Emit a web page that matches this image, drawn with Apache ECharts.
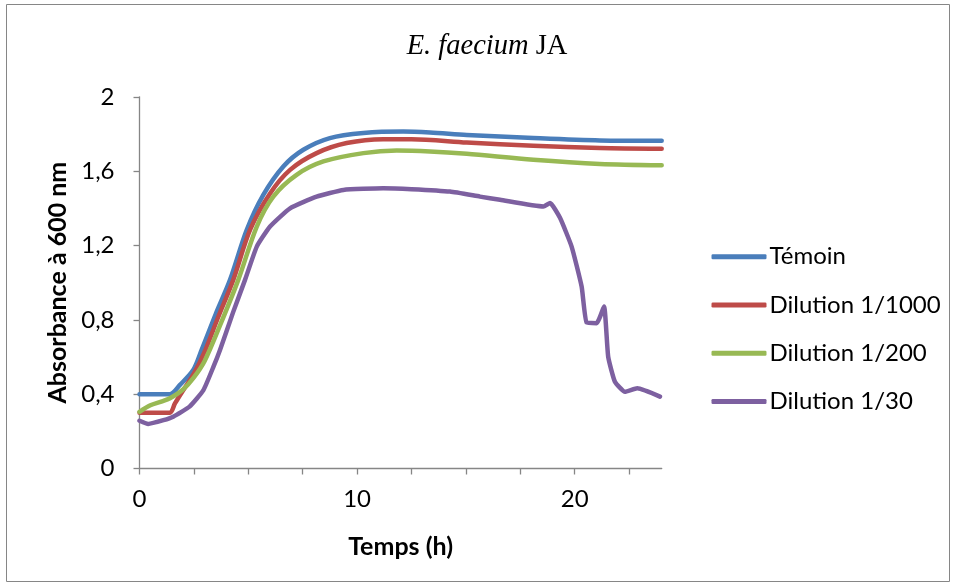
<!DOCTYPE html>
<html>
<head>
<meta charset="utf-8">
<script src="https://cdn.jsdelivr.net/npm/echarts@6/dist/echarts.min.js"></script>
<style>html,body{margin:0;padding:0;background:#fff;}#c{width:956px;height:585px;}</style>
</head>
<body>
<div id="c"></div>
<script>
var seriesNames = ['Témoin', 'Dilution 1/1000', 'Dilution 1/200', 'Dilution 1/30'];
var temoin = [[0,0.4],[0.5,0.4],[1,0.4],[1.4,0.4],[1.86,0.45],[2.47,0.53],[2.86,0.64],[3.5,0.83],[4.16,1.015],[4.93,1.284],[5.69,1.472],[6.61,1.625],[7.53,1.715],[8.75,1.778],[10.29,1.805],[12.12,1.813],[13.35,1.808],[15.04,1.795],[18.1,1.778],[21.16,1.765],[24,1.763]];
var dil1000 = [[0,0.3],[0.5,0.3],[1,0.3],[1.4,0.3],[1.63,0.35],[2.0,0.42],[2.5,0.51],[3.0,0.63],[3.6,0.81],[4.31,1.015],[5.08,1.284],[6.0,1.48],[6.92,1.607],[8.14,1.697],[9.52,1.751],[11.2,1.772],[12.5,1.772],[15.04,1.754],[18.1,1.736],[21.16,1.724],[24,1.72]];
var dil200 = [[0,0.305],[0.5,0.34],[1.0,0.36],[1.4,0.378],[2.0,0.425],[2.5,0.49],[3.0,0.58],[3.7,0.77],[4.54,1.015],[5.39,1.302],[6.15,1.463],[7.22,1.58],[8.45,1.652],[10.29,1.697],[11.82,1.711],[13.35,1.706],[15.04,1.693],[18.1,1.661],[21.16,1.639],[24,1.632]];
var dil30 = [[0,0.257],[0.4,0.24],[1.1,0.26],[1.55,0.279],[2.3,0.333],[2.93,0.42],[3.4,0.548],[3.7,0.638],[4.3,0.84],[4.85,1.015],[5.39,1.194],[6.0,1.302],[6.92,1.4],[8.14,1.463],[9.37,1.499],[11.2,1.508],[12.5,1.503],[14.27,1.49],[15.65,1.463],[16.57,1.446],[18.56,1.41],[18.87,1.428],[19.32,1.35],[19.86,1.194],[20.32,0.979],[20.55,0.785],[21.01,0.782],[21.35,0.871],[21.54,0.602],[21.85,0.467],[22.31,0.413],[22.88,0.432],[23.92,0.387]];
var xTicks = [0,2.5,5,7.5,10,12.5,15,17.5,20,22.5];
var xLabels = [0,10,20];
var colors = ['#4A7EBB', '#BE4B48', '#98B954', '#7D60A0'];

var chart = echarts.init(document.getElementById('c'), null, {renderer: 'canvas'});
var datasets = [temoin, dil1000, dil200, dil30];
var font = 'Lato, "Open Sans", sans-serif';
var serif = '"Liberation Serif", "DejaVu Serif", serif';
chart.setOption({
  animation: false,
  color: colors,
  grid: {left: 139.5, right: 294.3, top: 96.8, bottom: 116.5, containLabel: false},
  graphic: [
    {type: 'rect', shape: {x: 6.5, y: 4.5, width: 943, height: 577}, style: {fill: 'none', stroke: '#868686', lineWidth: 1}, silent: true},
    {type: 'text', x: 487, y: 47, style: {
      text: '{i|E. faecium}{n| JA}', align: 'center', verticalAlign: 'middle',
      rich: {
        i: {fontFamily: serif, fontStyle: 'italic', fontSize: 28.5, fill: '#000'},
        n: {fontFamily: serif, fontSize: 28.5, fill: '#000'}
      }
    }}
  ],
  legend: {
    orient: 'vertical', left: 706.5, top: 239.7,
    itemWidth: 55, itemHeight: 5, itemGap: 24.3,
    icon: 'roundRect',
    textStyle: {fontFamily: font, fontSize: 24, color: '#000', padding: [0,0,0,-2]},
    data: seriesNames
  },
  xAxis: {
    type: 'value', min: 0, max: 24,
    name: 'Temps (h)', nameLocation: 'middle', nameGap: 66,
    nameTextStyle: {fontFamily: font, fontSize: 25, fontWeight: 'bold', color: '#000'},
    axisLine: {lineStyle: {color: '#868686', width: 1.3}},
    axisTick: {show: true, length: 6, lineStyle: {color: '#868686', width: 1.3}, customValues: xTicks},
    axisLabel: {fontFamily: font, fontSize: 24, color: '#000', margin: 19, customValues: xLabels},
    splitLine: {show: false}
  },
  yAxis: {
    type: 'value', min: 0, max: 2, interval: 0.4,
    name: 'Absorbance à 600 nm', nameLocation: 'middle', nameGap: 66,
    nameTextStyle: {fontFamily: font, fontSize: 25, fontWeight: 'bold', color: '#000'},
    axisLine: {show: true, lineStyle: {color: '#868686', width: 1.3}},
    axisTick: {show: true, length: 6, lineStyle: {color: '#868686', width: 1.3}},
    axisLabel: {fontFamily: font, fontSize: 24, color: '#000', margin: 25,
      formatter: function (v) { return String(Math.round(v * 10) / 10).replace('.', ','); }},
    splitLine: {show: false}
  },
  series: datasets.map(function (d, i) {
    return {
      name: seriesNames[i], type: 'line', data: d,
      showSymbol: false, symbol: 'none', smooth: i === 3 ? 0.15 : 0.3,
      lineStyle: {width: 4.5, cap: 'round', join: 'round'}
    };
  })
});
</script>
</body>
</html>
